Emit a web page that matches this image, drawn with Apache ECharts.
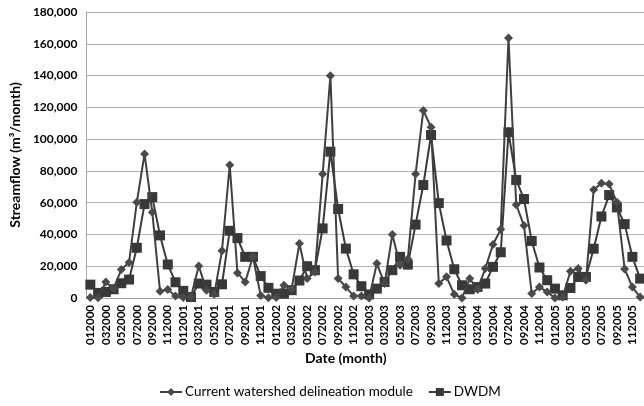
<!DOCTYPE html>
<html>
<head>
<meta charset="utf-8">
<script src="https://cdn.jsdelivr.net/npm/echarts@6/dist/echarts.min.js"></script>
<style>
html,body{margin:0;padding:0;background:#fff;}
#chart{width:644px;height:406px;}
</style>
</head>
<body>
<div id="chart"></div>
<script>
const years = ['2000','2001','2002','2003','2004','2005'];
const months = ['01','02','03','04','05','06','07','08','09','10','11','12'];
const categories = [];
years.forEach(function(y){ months.forEach(function(m){ categories.push(m + y); }); });

const currentModule = [
  300, 200, 10100, 6000, 17900, 22400, 60200, 90700, 54000, 4200, 5300, 1300,
  300, 800, 20200, 4900, 2300, 29700, 83700, 15800, 10100, 26000, 1500, 200,
  300, 8000, 5900, 34300, 12200, 16400, 78000, 139900, 12200, 6900, 1300, 1300,
  0, 21700, 9100, 40000, 20600, 24500, 78000, 118000, 107500, 9100, 13300, 2300,
  0, 12200, 5300, 18500, 33700, 43200, 163600, 58700, 45600, 2800, 6900, 3800,
  0, 600, 16800, 18500, 11200, 68200, 72200, 71700, 60200, 18300, 6900, 600
];
const dwdm = [
  8400, 3200, 3800, 5500, 9300, 11600, 31600, 59100, 63500, 39400, 21100, 9900,
  4500, 600, 9100, 8400, 3800, 8600, 42300, 37700, 25900, 25900, 13800, 6400,
  2700, 2700, 4900, 11000, 20000, 17500, 43800, 92100, 56000, 31100, 14900, 7400,
  2300, 5900, 10100, 17500, 25900, 21000, 46200, 71100, 102600, 59700, 36200, 18100,
  8000, 5500, 6900, 9100, 19600, 28800, 104300, 74300, 62300, 35900, 19200, 11200,
  5900, 1700, 6300, 13200, 13200, 31000, 51300, 64800, 57000, 46500, 25900, 12200
];
const seriesNames = ['Current watershed delineation module', 'DWDM'];

const FONT = 'Lato';
const chart = echarts.init(document.getElementById('chart'), null, {renderer: 'canvas'});
chart.setOption({
  animation: false,
  backgroundColor: '#ffffff',
  textStyle: {fontFamily: FONT},
  grid: {left: 79, top: 12, width: 566, bottom: 108, containLabel: false},
  xAxis: {
    type: 'category',
    data: categories,
    boundaryGap: true,
    axisLine: {show: true, lineStyle: {color: '#a6a6a6', width: 1}},
    axisTick: {show: false},
    axisLabel: {
      interval: 1, rotate: 90, margin: 7,
      fontFamily: FONT, fontWeight: 'bold', fontSize: 11.5, color: '#000'
    },
    splitLine: {show: false}
  },
  yAxis: {
    type: 'value',
    min: 0, max: 180000, interval: 20000,
    name: 'Streamflow (m³/month)',
    nameLocation: 'middle',
    nameGap: 59,
    nameRotate: 90,
    nameTextStyle: {fontFamily: FONT, fontWeight: 'bold', fontSize: 14, color: '#000'},
    axisLine: {show: true, lineStyle: {color: '#a6a6a6', width: 1}},
    axisTick: {show: false},
    axisLabel: {
      margin: 9, fontFamily: FONT, fontWeight: 'bold', fontSize: 12, color: '#000',
      formatter: function(v){ return v.toLocaleString('en-US'); }
    },
    splitLine: {show: true, lineStyle: {color: '#b3b3b3', width: 1}}
  },
  legend: {
    bottom: 2,
    left: 154,
    itemGap: 15,
    itemWidth: 22,
    itemHeight: 10,
    textStyle: {fontFamily: FONT, fontSize: 13.5, color: '#000', padding: [0, 0, 0, -2]},
    data: seriesNames
  },
  graphic: [{
    type: 'text',
    left: 305, top: 351,
    style: {text: 'Date (month)', font: 'bold 14px Lato', fill: '#000'}
  }],
  series: [{
    name: seriesNames[0],
    type: 'line',
    data: currentModule,
    symbol: 'diamond',
    symbolSize: 9,
    showAllSymbol: true,
    lineStyle: {color: '#404040', width: 2},
    itemStyle: {color: '#4a4a4a'},
    z: 3
  }, {
    name: seriesNames[1],
    type: 'line',
    data: dwdm,
    symbol: 'rect',
    symbolSize: 10,
    showAllSymbol: true,
    lineStyle: {color: '#3a3a3a', width: 2},
    itemStyle: {color: '#383838'},
    z: 2
  }]
});
</script>
</body>
</html>
